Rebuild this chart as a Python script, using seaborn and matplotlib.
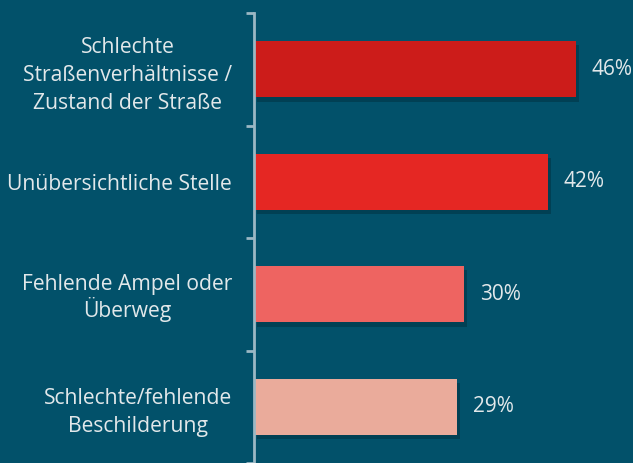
import matplotlib
matplotlib.use('Agg')
import matplotlib.pyplot as plt
import matplotlib.patheffects as pe
import seaborn as sns
import pandas as pd

categories = [
    "Schlechte\nStraßenverhältnisse /\nZustand der Straße",
    "Unübersichtliche Stelle",
    "Fehlende Ampel oder\nÜberweg",
    "Schlechte/fehlende\nBeschilderung",
]
values = [46, 42, 30, 29]
labels = ["46%", "42%", "30%", "29%"]
colors = ["#cc1c1a", "#e52723", "#ee6461", "#eaab9b"]

BG = "#02516a"
TXT = "#e2e8ea"
AXIS = "#9bb8c4"

sns.set_style("white")
plt.rcParams['font.family'] = ['Open Sans', 'DejaVu Sans']

df = pd.DataFrame({"cat": categories, "val": values})

fig = plt.figure(figsize=(6.33, 4.63), dpi=100, facecolor=BG)
ax = fig.add_axes([254 / 633, 0, 1 - 254 / 633, (463 - 13) / 463])
ax.set_facecolor(BG)

sns.barplot(data=df, x="val", y="cat", hue="cat", palette=colors, legend=False,
            width=0.5, orient="h", ax=ax, saturation=1, linewidth=0)

# soft drop shadow under the bars
for bar in ax.patches:
    bar.set_edgecolor("none")
    bar.set_path_effects([pe.SimplePatchShadow(offset=(2, -3), alpha=0.3, shadow_rgbFace="#001a24"), pe.Normal()])

for i, (v, lab) in enumerate(zip(values, labels)):
    ax.text(v + 2.2, i, lab, va="center", ha="left", color=TXT, fontsize=15)

ax.set_xlim(0, 54.1)
ax.set_ylim(3.5, -0.5)
ax.set_xlabel("")
ax.set_ylabel("")
ax.set_xticks([])

for s in ["top", "right", "bottom"]:
    ax.spines[s].set_visible(False)
ax.spines["left"].set_color(AXIS)
ax.spines["left"].set_linewidth(2)

ax.set_yticks(range(len(categories)))
ax.set_yticklabels(categories, color=TXT, fontsize=15.2, multialignment="center",
                   linespacing=1.45)
# the Ü line is taller, so tighten that label a bit
ax.get_yticklabels()[2].set_linespacing(1.1)
ax.tick_params(axis="y", which="major", left=True, length=0, pad=15.8)
ax.set_yticks([-0.5, 0.5, 1.5, 2.5, 3.5], minor=True)
ax.tick_params(axis="y", which="minor", left=True, length=6, width=2, color=AXIS, direction="out")

fig.savefig("out.png", dpi=100, facecolor=BG)
